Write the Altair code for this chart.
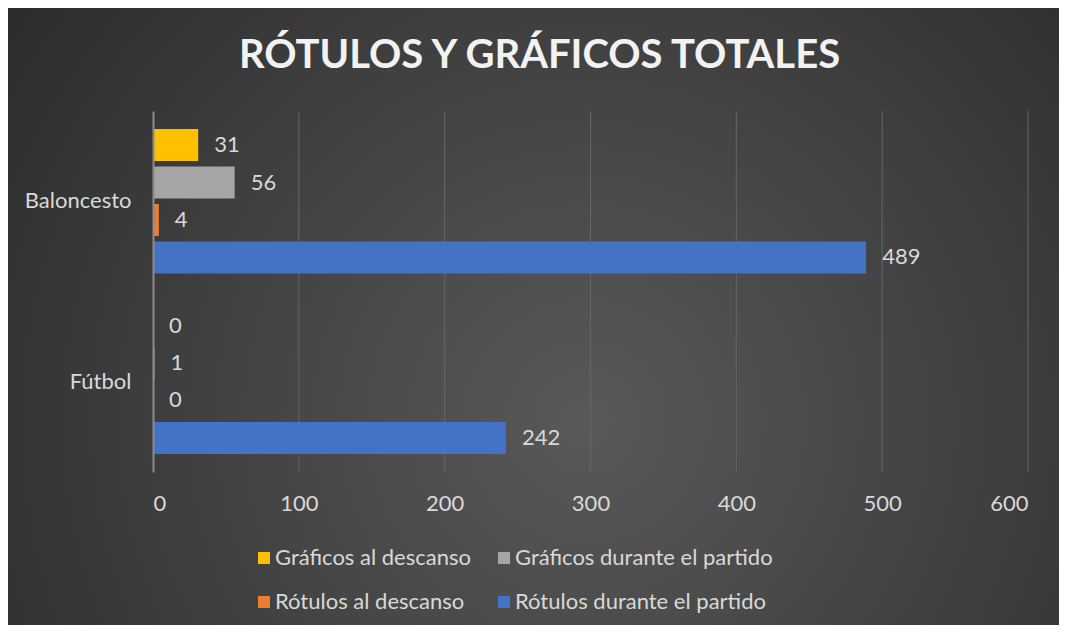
import altair as alt
import pandas as pd

categories = ["Baloncesto", "Fútbol"]
series = [
    "Gráficos al descanso",
    "Gráficos durante el partido",
    "Rótulos al descanso",
    "Rótulos durante el partido",
]
graficos_descanso = [31, 0]
graficos_partido = [56, 1]
rotulos_descanso = [4, 0]
rotulos_partido = [489, 242]
colors = ["#FFC000", "#A5A5A5", "#ED7D31", "#4472C4"]
x_ticks = [0, 100, 200, 300, 400, 500, 600]

rows = []
for vals, s in zip([graficos_descanso, graficos_partido, rotulos_descanso, rotulos_partido], series):
    for c, v in zip(categories, vals):
        rows.append({"deporte": c, "serie": s, "valor": v})
df = pd.DataFrame(rows)

W, H = 875, 361
PL, PT, PR, PB = 145, 103, 31, 153
FONT = "Lato"
LABEL = "#d9d9d9"
FS = 22

x_scale = alt.Scale(domain=[0, 600], nice=False)
x_axis = alt.Axis(values=x_ticks, grid=False, domain=False, ticks=False,
                  labelFontSize=FS, labelColor=LABEL, labelFont=FONT,
                  labelPadding=21, title=None, zindex=1)
y_axis = alt.Axis(title=None, ticks=False, domain=True, domainColor="#8c8c8c",
                  domainWidth=2, labelFontSize=FS, labelColor=LABEL, labelFont=FONT,
                  labelPadding=22, zindex=1)
y_enc = alt.Y("deporte:N", sort=categories,
              scale=alt.Scale(paddingInner=0.2, paddingOuter=0.1), axis=y_axis)
yoff_enc = alt.YOffset("serie:N", sort=series,
                       scale=alt.Scale(paddingInner=0.147, paddingOuter=0))

bg = alt.Chart(pd.DataFrame({"k": [0]})).mark_rect(
    fill=alt.RadialGradient(
        gradient="radial", x1=0.55, y1=0.6, r1=0, x2=0.55, y2=0.6, r2=0.75,
        stops=[alt.GradientStop(color="#595959", offset=0),
               alt.GradientStop(color="#272727", offset=1)])
).encode(x=alt.value(-PL), x2=alt.value(W + PR), y=alt.value(-PT), y2=alt.value(H + PB))

grid = alt.Chart(pd.DataFrame({"t": x_ticks[1:]})).mark_rule(
    color="#666666", strokeWidth=1
).encode(x=alt.X("t:Q", scale=x_scale, axis=x_axis))

bars = alt.Chart(df).mark_bar().encode(
    x=alt.X("valor:Q", scale=x_scale, axis=x_axis),
    y=y_enc,
    yOffset=yoff_enc,
    color=alt.Color("serie:N", sort=series,
                    scale=alt.Scale(domain=series, range=colors),
                    legend=alt.Legend(title=None, orient="none", legendX=100, legendY=436,
                                      direction="horizontal", columns=2,
                                      symbolType="square", symbolSize=144,
                                      symbolStrokeWidth=0, labelFontSize=FS,
                                      labelColor=LABEL, labelFont=FONT,
                                      columnPadding=22, rowPadding=22, labelLimit=400,
                                      labelOffset=0)),
)

labels = alt.Chart(df).mark_text(
    align="left", dx=16, fontSize=FS, color=LABEL, font=FONT
).encode(
    x=alt.X("valor:Q", scale=x_scale, axis=x_axis),
    y=y_enc,
    yOffset=yoff_enc,
    text="valor:Q",
)

chart = alt.layer(bg, grid, bars, labels).properties(
    width=W, height=H,
    title=alt.Title("RÓTULOS Y GRÁFICOS TOTALES", fontSize=40, font=FONT,
                    fontWeight="bold", color="#f2f2f2", anchor="middle",
                    frame="bounds", baseline="alphabetic", offset=-100, dx=6),
    autosize=alt.AutoSizeParams(type="none"),
    padding={"left": PL, "top": PT, "right": PR, "bottom": PB},
).configure_view(stroke=None).configure(background="#2b2b2b")

chart.save("out.html", embed_options={"renderer": "svg", "actions": False})
